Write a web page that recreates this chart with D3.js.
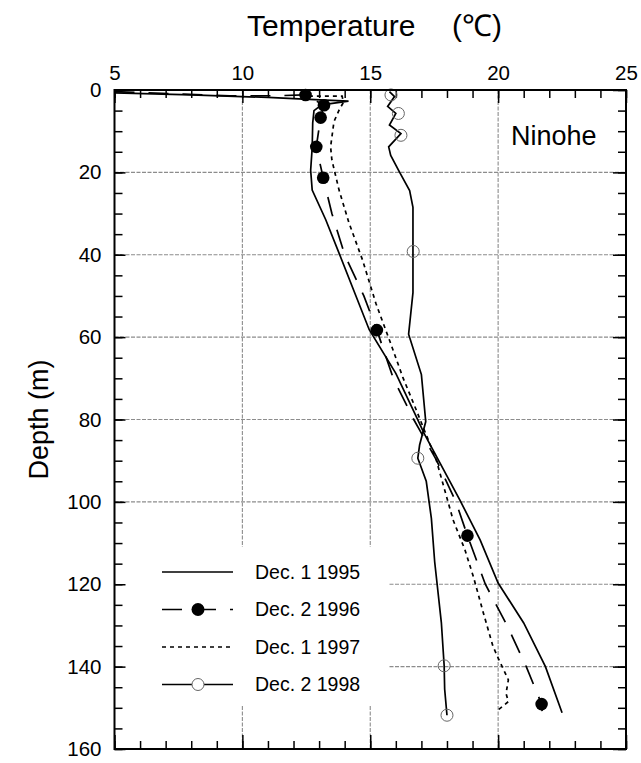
<!DOCTYPE html>
<html>
<head>
<meta charset="utf-8">
<script src="https://cdn.jsdelivr.net/npm/d3@7"></script>
<style>
  body { margin: 0; background: #fff; }
  svg { display: block; font-family: "Liberation Sans", Arial, Helvetica, sans-serif; }
</style>
</head>
<body>
<svg id="chart" width="641" height="763"></svg>
<script>
/* ===== Data (depth in m, temperature in °C) ===== */

const seriesNames = ["Dec. 1 1995", "Dec. 2 1996", "Dec. 1 1997", "Dec. 2 1998"];

const depth1995 = [0.7, 1.2, 1.8, 2.2, 2.7, 3.6, 5, 8, 14, 19.5, 24.3, 31.5, 39.6, 58.2, 68.8, 80.1, 83.3, 99.5, 109.3, 119.7, 129.4, 140, 151.2];
const temp1995  = [5.0, 8.0, 11.0, 12.4, 14.15, 13.1, 12.8, 12.75, 12.73, 12.67, 12.73, 13.26, 13.78, 14.96, 16.0, 16.86, 17.1, 18.5, 19.3, 20.0, 21.0, 21.85, 22.5];

const depth1996 = [0.4, 1.4, 1.4, 1.2, 3.7, 6.7, 13.8, 21.3, 30, 40, 50, 58.3, 70, 80, 90, 100, 108.2, 120, 130, 140, 149.1, 150.8];
const temp1996  = [5.0, 9.5, 11.3, 12.47, 13.19, 13.06, 12.89, 13.16, 13.5, 14.0, 14.75, 15.26, 15.9, 16.7, 17.6, 18.35, 18.8, 19.5, 20.35, 21.1, 21.7, 21.72];
const markDepth1996 = [1.2, 3.7, 6.7, 13.8, 21.3, 58.3, 108.2, 149.1];
const markTemp1996  = [12.47, 13.19, 13.06, 12.89, 13.16, 15.26, 18.8, 21.7];

const depth1997 = [1.5, 1.5, 3, 4.9, 7.7, 13.8, 17, 24.3, 32.3, 41.3, 51.8, 60.7, 69.7, 77.7, 89.8, 97.1, 104.4, 111.6, 118.1, 126.9, 135.1, 137.9, 143.2, 146.5, 148.5, 150.5];
const temp1997  = [12.6, 13.9, 13.95, 13.78, 13.58, 13.45, 13.5, 13.78, 14.17, 14.7, 15.22, 15.75, 16.27, 16.8, 17.58, 17.91, 18.24, 18.7, 19.03, 19.42, 19.8, 20.0, 20.4, 20.31, 20.4, 20.0];

const depth1998 = [0.4, 1.6, 4, 5.7, 8.5, 10.6, 13.8, 15.9, 19.9, 24.4, 28.5, 49.2, 59.3, 69.1, 80.5, 86.2, 89.4, 95, 104, 114.6, 129.3, 139.8, 145.5, 151.8];
const temp1998  = [15.75, 15.95, 15.68, 16.0, 15.75, 16.2, 15.72, 15.8, 16.14, 16.54, 16.67, 16.67, 16.5, 17.0, 17.17, 16.93, 16.86, 17.19, 17.39, 17.52, 17.78, 17.89, 17.91, 18.0];
const markDepth1998 = [1.2, 5.7, 11, 39.2, 89.4, 139.8, 151.8];
const markTemp1998  = [15.81, 16.1, 16.2, 16.68, 16.86, 17.89, 18.0];

const tempTicks = [5, 10, 15, 20, 25];
const depthTicks = [0, 20, 40, 60, 80, 100, 120, 140, 160];

/* ===== Setup ===== */

const svg = d3.select("#chart");

const x = d3.scaleLinear().domain([5, 25]).range([114.5, 626]);
const y = d3.scaleLinear().domain([0, 160]).range([90, 749]);

const zip = (ds, ts) => ds.map((d, i) => ({ depth: d, temp: ts[i] }));

const line = d3.line()
  .x(d => x(d.temp))
  .y(d => y(d.depth));

/* ===== Grid ===== */

const grid = svg.append("g")
  .attr("stroke", "#8c8c8c")
  .attr("stroke-width", 1.1)
  .attr("stroke-dasharray", "4,1.5");

grid.selectAll(".gx")
  .data(tempTicks.slice(1, -1))
  .enter().append("line")
  .attr("x1", d => x(d)).attr("x2", d => x(d))
  .attr("y1", y(0)).attr("y2", y(160));

grid.selectAll(".gy")
  .data(depthTicks.slice(1, -1))
  .enter().append("line")
  .attr("x1", x(5)).attr("x2", x(25))
  .attr("y1", d => y(d)).attr("y2", d => y(d));

// legend background hides the grid under it
svg.append("rect")
  .attr("x", 116).attr("y", 547)
  .attr("width", 272).attr("height", 158)
  .attr("fill", "#fff");

/* ===== Axes ===== */

function styleAxis(g) {
  g.select(".domain").remove();
  g.selectAll(".tick line").attr("stroke-width", 1.5);
  g.attr("font-size", 20.5).attr("font-family", null);
  g.selectAll("text").attr("fill", "#000");
}

const minorT = d3.range(5, 26, 1);
const minorD = d3.range(0, 161, 5);

svg.append("g")
  .attr("transform", `translate(0,${y(0)})`)
  .call(d3.axisTop(x).tickValues(minorT).tickSize(-8).tickFormat(""))
  .call(styleAxis);
svg.append("g")
  .attr("transform", `translate(0,${y(0)})`)
  .call(d3.axisTop(x).tickValues(tempTicks).tickSize(-13).tickPadding(10))
  .call(styleAxis);

svg.append("g")
  .attr("transform", `translate(0,${y(160)})`)
  .call(d3.axisBottom(x).tickValues(minorT).tickSize(-8).tickFormat(""))
  .call(styleAxis);
svg.append("g")
  .attr("transform", `translate(0,${y(160)})`)
  .call(d3.axisBottom(x).tickValues(tempTicks).tickSize(-14).tickFormat(""))
  .call(styleAxis);

svg.append("g")
  .attr("transform", `translate(${x(5)},0)`)
  .call(d3.axisLeft(y).tickValues(minorD).tickSize(-8).tickFormat(""))
  .call(styleAxis);
svg.append("g")
  .attr("transform", `translate(${x(5)},0)`)
  .call(d3.axisLeft(y).tickValues(depthTicks).tickSize(-11).tickPadding(13))
  .call(styleAxis);

svg.append("g")
  .attr("transform", `translate(${x(25)},0)`)
  .call(d3.axisRight(y).tickValues(minorD).tickSize(-8).tickFormat(""))
  .call(styleAxis);
svg.append("g")
  .attr("transform", `translate(${x(25)},0)`)
  .call(d3.axisRight(y).tickValues(depthTicks).tickSize(-13).tickFormat(""))
  .call(styleAxis);

/* ===== Lines ===== */

const styles = [
  { dash: null },
  { dash: "20,14" },
  { dash: "4,4" },
  { dash: null }
];

const lineData = [
  zip(depth1995, temp1995),
  zip(depth1996, temp1996),
  zip(depth1997, temp1997),
  zip(depth1998, temp1998)
];

svg.selectAll(".profile")
  .data(lineData)
  .enter().append("path")
  .attr("class", "profile")
  .attr("d", line)
  .attr("fill", "none")
  .attr("stroke", "#000")
  .attr("stroke-width", 1.7)
  .attr("stroke-dasharray", (d, i) => styles[i].dash);

svg.selectAll(".dot96")
  .data(zip(markDepth1996, markTemp1996))
  .enter().append("circle")
  .attr("cx", d => x(d.temp))
  .attr("cy", d => y(d.depth))
  .attr("r", 6.3)
  .attr("fill", "#000");

svg.selectAll(".dot98")
  .data(zip(markDepth1998, markTemp1998))
  .enter().append("circle")
  .attr("cx", d => x(d.temp))
  .attr("cy", d => y(d.depth))
  .attr("r", 6)
  .attr("fill", "none")
  .attr("stroke", "#666")
  .attr("stroke-width", 1);

/* ===== Frame ===== */

svg.append("rect")
  .attr("x", x(5)).attr("y", y(0))
  .attr("width", x(25) - x(5)).attr("height", y(160) - y(0))
  .attr("fill", "none")
  .attr("stroke", "#000")
  .attr("stroke-width", 2);

/* ===== Legend ===== */

const legend = svg.append("g");
const rowY = i => 572 + i * 37.5;

seriesNames.forEach((name, i) => {
  legend.append("line")
    .attr("x1", 162).attr("x2", 233)
    .attr("y1", rowY(i)).attr("y2", rowY(i))
    .attr("stroke", "#000")
    .attr("stroke-width", 1.7)
    .attr("stroke-dasharray", styles[i].dash);
  legend.append("text")
    .attr("x", 255).attr("y", rowY(i))
    .attr("dy", "0.35em")
    .attr("font-size", 19.5)
    .text(name);
});

legend.append("circle")
  .attr("cx", 198).attr("cy", rowY(1)).attr("r", 6.5)
  .attr("fill", "#000");
legend.append("circle")
  .attr("cx", 198).attr("cy", rowY(3)).attr("r", 6)
  .attr("fill", "#fff").attr("stroke", "#666").attr("stroke-width", 1);

/* ===== Labels ===== */

const title = svg.append("text")
  .attr("x", 247).attr("y", 36)
  .attr("font-size", 30);
title.append("tspan").text("Temperature");
title.append("tspan").attr("x", 452).text("(℃)");

svg.append("text")
  .attr("transform", `translate(48,${(y(0) + y(160)) / 2}) rotate(-90)`)
  .attr("text-anchor", "middle")
  .attr("font-size", 27)
  .text("Depth (m)");

svg.append("text")
  .attr("x", 511).attr("y", 145)
  .attr("font-size", 27)
  .text("Ninohe");
</script>
</body>
</html>
